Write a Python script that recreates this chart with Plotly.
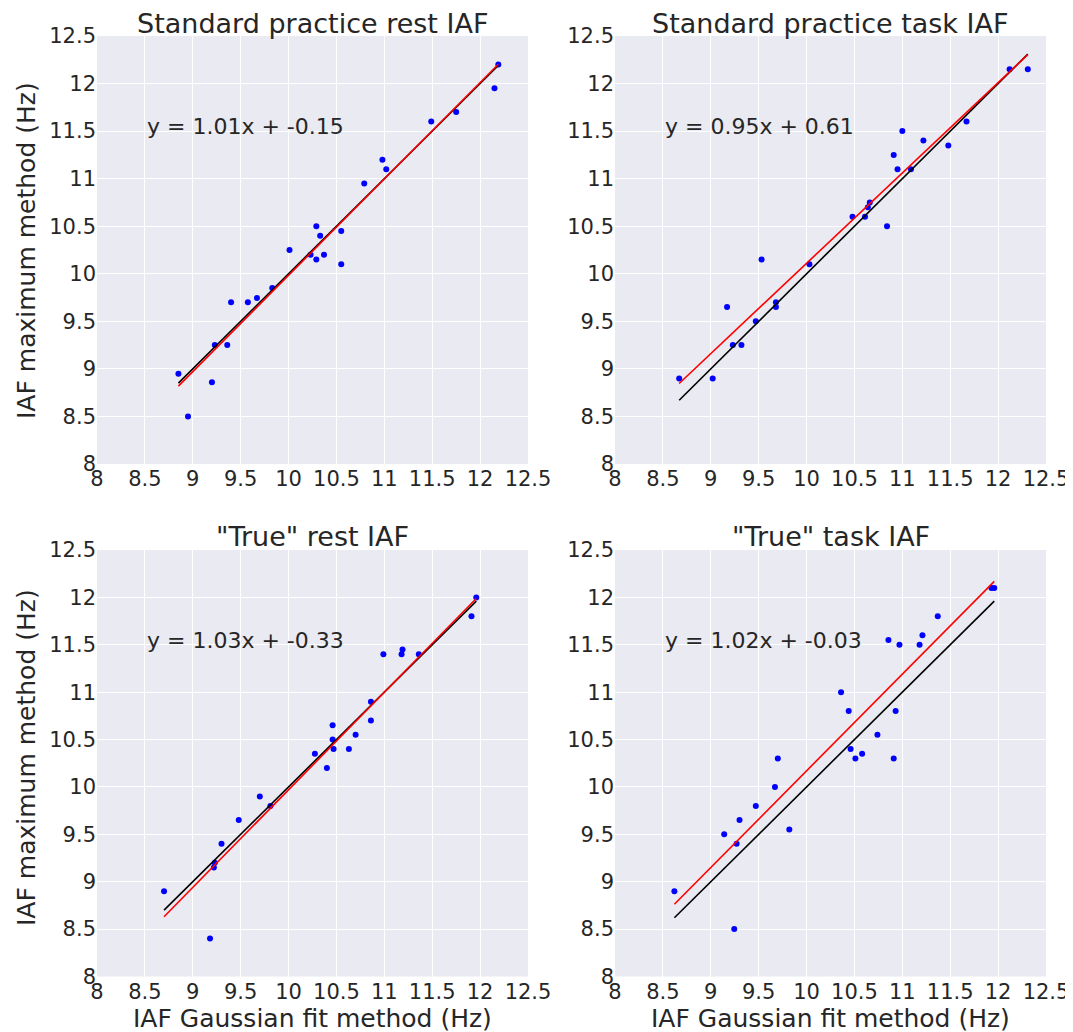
import plotly.graph_objects as go

# ---------------- data ----------------
titles = ["Standard practice rest IAF", "Standard practice task IAF",
          "\"True\" rest IAF", "\"True\" task IAF"]

x_rest_std = [8.85, 8.95, 9.20, 9.23, 9.36, 9.40, 9.575, 9.67, 9.83, 10.01, 10.23, 10.29,
              10.29, 10.33, 10.37, 10.55, 10.55, 10.79, 10.98, 11.02, 11.49, 11.75, 12.15, 12.19]
y_rest_std = [8.95, 8.50, 8.86, 9.25, 9.25, 9.70, 9.70, 9.745, 9.85, 10.25, 10.20, 10.50,
              10.15, 10.40, 10.20, 10.45, 10.10, 10.95, 11.20, 11.10, 11.60, 11.70, 11.95, 12.20]

x_task_std = [8.67, 9.02, 9.17, 9.23, 9.32, 9.47, 9.53, 9.68, 9.68, 10.03, 10.48, 10.61,
              10.64, 10.66, 10.84, 10.91, 10.95, 11.00, 11.09, 11.22, 11.48, 11.67, 12.12, 12.31]
y_task_std = [8.90, 8.90, 9.65, 9.25, 9.25, 9.50, 10.15, 9.65, 9.70, 10.10, 10.60, 10.60,
              10.70, 10.75, 10.50, 11.25, 11.10, 11.50, 11.10, 11.40, 11.35, 11.60, 12.15, 12.15]

x_rest_true = [8.70, 9.18, 9.22, 9.23, 9.30, 9.48, 9.70, 9.81, 10.275, 10.40, 10.46, 10.46,
               10.47, 10.63, 10.70, 10.86, 10.86, 10.99, 11.18, 11.19, 11.36, 11.91, 11.96]
y_rest_true = [8.90, 8.40, 9.15, 9.20, 9.40, 9.65, 9.90, 9.80, 10.35, 10.20, 10.65, 10.50,
               10.40, 10.40, 10.55, 10.90, 10.70, 11.40, 11.40, 11.45, 11.40, 11.80, 12.00]

x_task_true = [8.62, 9.245, 9.14, 9.27, 9.30, 9.47, 9.67, 9.70, 9.82, 10.36, 10.44, 10.46,
               10.51, 10.58, 10.74, 10.91, 10.93, 10.855, 10.97, 11.18, 11.21, 11.37, 11.93, 11.96]
y_task_true = [8.90, 8.50, 9.50, 9.40, 9.65, 9.80, 10.00, 10.30, 9.55, 11.00, 10.80, 10.40,
               10.30, 10.35, 10.55, 10.30, 10.80, 11.55, 11.50, 11.50, 11.60, 11.80, 12.10, 12.10]

# fitted line coefficients (labels show them rounded to 2 decimals)
slopes = [1.013, 0.95, 1.03, 1.02]
intercepts = [-0.146, 0.61, -0.33, -0.03]

tick_vals = [8, 8.5, 9, 9.5, 10, 10.5, 11, 11.5, 12, 12.5]
tick_text = ["8", "8.5", "9", "9.5", "10", "10.5", "11", "11.5", "12", "12.5"]

x_title = "IAF Gaussian fit method (Hz)"
y_title = "IAF maximum method (Hz)"

xs = [x_rest_std, x_task_std, x_rest_true, x_task_true]
ys = [y_rest_std, y_task_std, y_rest_true, y_task_true]

# ---------------- layout geometry ----------------
# the page body adds an 8 px offset, so the figure is 8 px smaller and
# target pixel positions are shifted by that offset
OFF = 8
W, H = 1073 - OFF, 1032 - OFF
FONT = "DejaVu Sans"
TXT = "#262626"


def px(xp):
    return (xp - OFF) / W


def py(yp):
    return 1 - (yp - OFF) / H


xdoms = [[px(97), px(528)], [px(615), px(1046)]]
ydoms = [[py(464), py(36)], [py(976.5), py(550)]]
title_y = [py(23), py(536)]
ytitle_y = [py(251), py(758)]

fig = go.Figure()
layout = dict(
    width=W, height=H, margin=dict(l=0, r=0, t=0, b=0, autoexpand=False),
    paper_bgcolor="white", plot_bgcolor="#EAEAF2",
    showlegend=False, font=dict(family=FONT, color=TXT),
)
annotations = []

for i in range(4):
    r, c = divmod(i, 2)
    n = i + 1
    xa = "x" if n == 1 else f"x{n}"
    ya = "y" if n == 1 else f"y{n}"
    x, y = xs[i], ys[i]
    xmin, xmax = min(x), max(x)

    fig.add_trace(go.Scatter(x=x, y=y, mode="markers", xaxis=xa, yaxis=ya,
                             marker=dict(color="#0000FF", size=6, line=dict(width=0))))
    fig.add_trace(go.Scatter(x=[xmin, xmax], y=[xmin, xmax], mode="lines", xaxis=xa, yaxis=ya,
                             line=dict(color="black", width=1.6)))
    fig.add_trace(go.Scatter(x=[xmin, xmax],
                             y=[slopes[i] * xmin + intercepts[i], slopes[i] * xmax + intercepts[i]],
                             mode="lines", xaxis=xa, yaxis=ya,
                             line=dict(color="#FF0000", width=1.6)))

    axcommon = dict(range=[8, 12.5], tickvals=tick_vals, ticktext=tick_text,
                    showgrid=True, gridcolor="white", gridwidth=1.2, zeroline=False,
                    showline=False, ticks="", automargin=False,
                    tickfont=dict(family=FONT, size=21, color=TXT))
    xkey = "xaxis" if n == 1 else f"xaxis{n}"
    ykey = "yaxis" if n == 1 else f"yaxis{n}"
    layout[xkey] = dict(axcommon, domain=xdoms[c], anchor=ya)
    layout[ykey] = dict(axcommon, domain=ydoms[r], anchor=xa)

    eq = f"y = {slopes[i]:.2f}x + {intercepts[i]:.2f}"
    annotations.append(dict(text=eq, x=8.5, y=11.55, xref=xa, yref=ya,
                            xanchor="left", yanchor="middle", showarrow=False,
                            font=dict(family=FONT, size=22, color=TXT)))
    annotations.append(dict(text=titles[i], x=(xdoms[c][0] + xdoms[c][1]) / 2, y=title_y[r],
                            xref="paper", yref="paper", xanchor="center", yanchor="middle",
                            showarrow=False, font=dict(family=FONT, size=27, color=TXT)))
    if r == 1:
        annotations.append(dict(text=x_title, x=(xdoms[c][0] + xdoms[c][1]) / 2,
                                y=py(1018), xref="paper", yref="paper",
                                xanchor="center", yanchor="middle", showarrow=False,
                                font=dict(family=FONT, size=25, color=TXT)))
    if c == 0:
        annotations.append(dict(text=y_title, x=px(26), y=ytitle_y[r],
                                xref="paper", yref="paper", textangle=-90,
                                xanchor="center", yanchor="middle", showarrow=False,
                                font=dict(family=FONT, size=25, color=TXT)))

layout["annotations"] = annotations
fig.update_layout(**layout)
fig.write_html("out.html")
